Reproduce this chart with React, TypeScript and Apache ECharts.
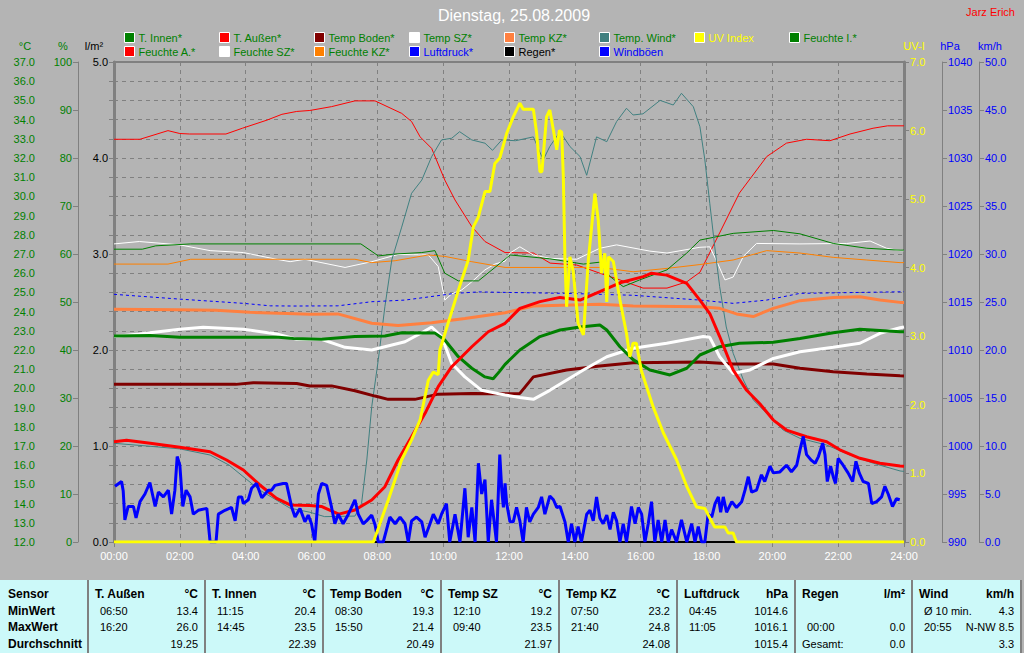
import React, { useEffect, useRef } from 'react';
import * as echarts from 'echarts';

const FONT = 'Arial, "Liberation Sans", sans-serif';

// ---- data: [hour, value] ----
const tInnen = [[0,22.73],[1.1,22.75],[2.0,22.66],[5.0,22.66],[5.45,22.6],[6.3,22.56],[7.32,22.7],[8.23,22.73],[8.74,22.9],[9.75,22.88],[10.05,22.52],[10.46,21.65],[10.87,21.05],[11.27,20.6],[11.52,20.5],[11.72,20.9],[11.88,21.25],[12.33,22.0],[12.94,22.7],[13.55,23.04],[14.16,23.2],[14.76,23.3],[14.97,23.04],[15.37,22.17],[15.77,21.5],[16.28,20.96],[16.89,20.7],[17.4,21.05],[17.8,21.74],[18.4,22.17],[19.0,22.35],[20.03,22.4],[20.84,22.6],[21.85,22.9],[22.66,23.08],[23.88,22.95],[24,22.95]];
const tAussen = [[0,17.22],[0.38,17.3],[1.1,17.14],[2.0,16.93],[2.92,16.7],[3.42,16.27],[3.93,15.75],[4.43,14.97],[4.94,14.27],[5.35,13.93],[5.95,13.9],[6.3,13.85],[6.83,13.45],[7.32,13.67],[7.83,14.19],[8.23,14.88],[8.63,16.27],[9.04,17.48],[9.45,18.7],[9.85,20.09],[10.26,21.13],[10.87,22.17],[11.37,22.95],[11.88,23.39],[12.33,24.17],[12.94,24.52],[13.55,24.74],[14.16,24.6],[14.76,25.04],[15.37,25.5],[16.08,25.82],[16.33,26.0],[16.79,25.9],[17.4,25.47],[17.8,24.6],[18.1,23.9],[18.4,22.7],[18.81,20.96],[19.22,19.9],[19.62,19.2],[20.03,18.35],[20.43,17.83],[21.04,17.48],[21.65,17.22],[22.05,16.8],[22.66,16.36],[23.27,16.1],[23.88,15.96],[24,15.95]];
const tempBoden = [[0,20.21],[3.7,20.21],[4.23,20.3],[5.55,20.26],[5.95,20.13],[6.61,20.13],[7.32,19.88],[7.93,19.6],[8.33,19.43],[9.14,19.43],[9.85,19.7],[10.87,19.74],[11.88,19.72],[12.33,19.74],[12.74,20.6],[13.75,20.96],[14.76,21.17],[15.77,21.34],[17.8,21.37],[18.81,21.27],[20.03,21.27],[20.84,21.05],[21.85,20.87],[22.87,20.75],[23.88,20.66],[24,20.65]];
const tempSZ = [[0,22.7],[0.77,22.83],[2.0,23.08],[2.71,23.18],[3.93,23.08],[4.94,22.83],[5.55,22.56],[6.3,22.56],[7.02,22.14],[7.83,22.0],[8.84,22.43],[9.35,22.9],[9.65,23.2],[9.95,22.7],[10.26,21.3],[10.66,20.6],[11.17,19.9],[11.88,19.66],[12.33,19.53],[12.74,19.43],[13.24,19.9],[14.26,20.96],[14.97,21.65],[15.77,22.09],[16.79,22.35],[17.9,22.7],[18.1,22.66],[18.4,21.65],[18.81,20.78],[19.32,20.96],[20.03,21.56],[20.84,21.91],[21.85,22.14],[22.66,22.35],[23.27,22.87],[23.88,23.16],[24,23.2]];
const tempKZ = [[0,24.12],[2.0,24.1],[3.1,24.07],[4.13,23.96],[5.25,23.9],[5.95,23.86],[6.8,23.88],[7.83,23.39],[8.63,23.27],[9.65,23.42],[10.66,23.64],[11.88,23.94],[12.74,24.29],[14.76,24.38],[15.77,24.29],[17.8,24.25],[18.4,24.17],[18.91,23.88],[19.42,23.74],[20.03,24.17],[20.84,24.57],[21.85,24.74],[22.66,24.77],[23.27,24.6],[23.88,24.48],[24,24.48]];
const tempWind = [[0,17.14],[1.0,17.0],[2.0,16.85],[2.92,16.53],[3.5,16.0],[4.43,14.7],[5.35,13.76],[5.95,13.55],[6.4,13.32],[7.32,13.35],[7.52,14.0],[7.68,16.27],[7.83,19.05],[8.03,21.5],[8.23,24.26],[8.44,26.7],[8.74,28.4],[9.04,30.16],[9.35,30.85],[9.65,32.07],[9.95,32.94],[10.26,33.03],[10.5,33.37],[10.87,32.94],[11.27,32.77],[11.5,32.4],[11.78,32.94],[12.2,32.9],[12.74,33.1],[13.04,31.9],[13.24,32.6],[13.55,33.37],[13.85,32.6],[14.16,32.07],[14.36,31.1],[14.66,33.1],[14.97,32.85],[15.27,33.9],[15.57,34.59],[15.77,34.24],[16.07,34.3],[16.59,35.0],[16.99,34.76],[17.24,35.37],[17.6,34.67],[17.8,33.63],[17.95,31.9],[18.1,29.64],[18.25,27.38],[18.4,25.3],[18.6,23.2],[18.81,21.83],[19.12,20.44],[19.42,19.4],[19.83,18.7],[20.33,17.83],[20.84,17.4],[21.65,17.05],[22.36,16.53],[23.07,16.1],[23.88,15.7],[24,15.68]];
const feuchteI = [[0,61.0],[0.86,61.0],[1.27,61.7],[2.33,62.1],[7.5,62.1],[8.03,59.6],[8.54,60.0],[9.35,60.3],[9.75,60.7],[10.05,56.0],[10.46,54.4],[11.07,54.4],[11.88,58.9],[12.03,59.8],[13.24,59.0],[14.26,57.9],[14.76,58.3],[15.07,55.3],[15.47,53.2],[15.97,54.6],[16.8,56.7],[17.4,60.2],[17.8,62.9],[18.81,64.3],[20.03,64.9],[20.84,64.2],[21.85,62.2],[22.87,61.2],[23.88,60.8],[24,60.8]];
const feuchteA = [[0,83.9],[0.79,83.9],[1.64,85.7],[2.0,85.1],[2.3,85.0],[3.4,85.0],[3.9,86.2],[4.65,87.9],[5.1,89.1],[5.55,89.7],[5.95,89.9],[6.61,90.7],[7.32,91.9],[7.93,91.9],[8.74,89.3],[9.04,87.6],[9.3,84.4],[9.65,82.0],[10.05,75.4],[10.36,71.25],[10.87,65.7],[11.27,62.6],[11.88,60.3],[12.74,60.2],[13.25,58.1],[14.06,57.7],[14.76,56.0],[15.37,54.6],[16.07,52.9],[16.8,52.9],[17.4,54.2],[17.8,56.2],[18.4,64.4],[19.0,72.7],[19.83,80.3],[20.43,83.1],[21.04,83.9],[21.75,83.6],[22.36,85.0],[23.06,86.2],[23.5,86.7],[24,86.7]];
const feuchteSZ = [[0,62.1],[0.77,62.6],[2.0,61.9],[2.92,60.7],[3.93,60.3],[4.94,58.9],[5.35,58.4],[5.8,58.9],[7.02,57.2],[7.83,58.4],[8.63,59.9],[9.55,59.8],[9.85,57.4],[10.05,50.4],[10.26,51.7],[10.56,52.5],[10.87,54.2],[11.27,56.7],[11.57,57.9],[11.88,58.5],[12.03,60.2],[12.33,61.5],[12.74,59.8],[13.24,59.1],[14.06,58.9],[14.76,61.2],[15.27,61.9],[16.28,60.6],[16.8,60.2],[17.8,61.4],[18.1,61.5],[18.35,57.9],[18.56,54.6],[18.81,55.2],[19.12,59.5],[19.52,62.2],[20.84,62.1],[22.26,62.2],[22.97,62.7],[23.47,61.2],[23.88,60.7],[24,60.7]];
const feuchteKZ = [[0,57.9],[1.64,57.9],[2.33,58.9],[7.32,58.9],[7.83,58.2],[8.54,58.6],[9.55,59.8],[10.05,59.5],[10.87,58.4],[11.88,57.2],[14.76,57.2],[15.77,56.3],[16.8,57.0],[17.8,57.8],[18.81,58.75],[19.83,60.7],[20.84,60.2],[21.85,59.3],[22.87,58.75],[23.88,58.2],[24,58.2]];
const luftdruck = [[0,1015.8],[2.0,1015.3],[3.93,1014.86],[4.75,1014.6],[5.45,1014.58],[6.8,1014.6],[7.83,1015.03],[8.84,1015.2],[10.36,1015.9],[11.08,1016.05],[11.88,1016.0],[13.75,1015.9],[15.77,1015.7],[17.8,1015.2],[18.81,1014.86],[19.83,1015.2],[20.84,1015.9],[24,1016.07]];
const regen = [[0,0],[24,0]];
const uvIndex = [[0,0],[7.88,0],[8.03,0.2],[8.33,0.61],[8.74,1.2],[9.04,1.49],[9.3,1.78],[9.55,2.36],[9.7,2.48],[9.85,2.44],[9.9,2.8],[10.15,3.19],[10.46,3.67],[10.76,4.11],[10.92,4.6],[11.07,4.74],[11.27,5.11],[11.42,5.11],[11.57,5.52],[11.72,5.6],[11.93,5.96],[12.13,6.2],[12.33,6.4],[12.43,6.31],[12.74,6.31],[12.84,5.96],[12.94,5.4],[13.0,5.4],[13.14,6.2],[13.24,6.3],[13.35,6.0],[13.45,5.72],[13.53,6.0],[13.6,5.98],[13.65,5.33],[13.7,4.11],[13.75,3.43],[13.85,4.16],[13.95,3.95],[14.1,3.19],[14.26,3.02],[14.41,4.11],[14.61,5.08],[14.71,4.7],[14.81,3.92],[14.91,4.21],[14.97,3.5],[15.02,4.16],[15.17,4.09],[15.37,3.53],[15.57,3.04],[15.67,2.7],[15.77,2.9],[15.87,2.9],[16.02,2.5],[16.38,1.97],[16.69,1.59],[17.09,1.2],[17.4,0.81],[17.7,0.51],[17.95,0.49],[18.1,0.35],[18.25,0.22],[18.56,0.22],[18.66,0.13],[18.81,0.13],[18.91,0],[24,0]];
const windboeen = [[0.03,5.8],[0.23,6.3],[0.28,5.3],[0.33,2.3],[0.43,3.7],[0.59,3.7],[0.67,2.5],[0.79,4.2],[0.94,5.0],[1.09,6.2],[1.25,3.7],[1.35,5.2],[1.5,4.7],[1.65,5.4],[1.75,2.9],[1.85,5.4],[1.92,8.9],[2.0,8.0],[2.09,3.7],[2.19,5.4],[2.31,4.7],[2.41,2.9],[2.56,3.3],[2.82,3.5],[2.92,0],[3.1,0],[3.17,2.9],[3.37,3.3],[3.57,3.6],[3.68,2.2],[3.78,4.7],[3.88,4.7],[3.93,4.0],[4.08,4.4],[4.18,5.6],[4.33,6.1],[4.49,4.6],[4.69,5.4],[4.79,5.4],[4.89,5.9],[5.14,6.1],[5.24,6.1],[5.4,3.6],[5.5,2.6],[5.65,3.5],[5.8,2.1],[5.9,2.8],[6.0,1.9],[6.1,0],[6.21,5.0],[6.31,6.1],[6.46,5.9],[6.61,3.6],[6.71,1.9],[6.81,2.9],[6.96,1.9],[7.12,2.9],[7.32,4.4],[7.42,2.9],[7.57,1.9],[7.67,2.2],[7.83,2.8],[7.93,1.8],[8.03,0],[8.18,0],[8.38,2.6],[8.54,1.9],[8.69,2.6],[8.84,1.9],[8.94,0],[9.04,2.2],[9.19,2.6],[9.35,2.1],[9.45,0.5],[9.6,1.9],[9.7,2.9],[9.85,1.9],[9.95,2.9],[10.1,4.0],[10.2,0],[10.36,2.9],[10.51,0],[10.66,5.6],[10.76,0.5],[10.87,3.6],[10.97,0],[11.07,8.2],[11.17,5.0],[11.27,6.5],[11.37,0],[11.47,4.4],[11.62,0],[11.72,9.1],[11.78,5.4],[11.83,3.6],[11.88,6.1],[11.93,4.0],[12.03,2.1],[12.13,2.1],[12.23,3.6],[12.33,2.2],[12.43,0],[12.53,3.6],[12.63,2.1],[12.74,2.9],[12.89,3.6],[12.99,4.7],[13.09,2.9],[13.24,4.8],[13.35,4.4],[13.45,3.6],[13.55,3.7],[13.7,2.1],[13.8,0],[13.9,1.9],[14.0,0],[14.1,1.6],[14.2,0],[14.36,2.9],[14.46,3.3],[14.56,2.2],[14.66,4.7],[14.76,2.5],[14.86,1.9],[14.97,2.8],[15.07,1.3],[15.17,3.1],[15.27,2.2],[15.37,0],[15.47,1.9],[15.57,0],[15.72,3.7],[15.83,1.9],[15.93,3.6],[16.03,2.9],[16.13,0],[16.23,1.9],[16.33,4.2],[16.43,0],[16.53,2.3],[16.64,0],[16.74,2.3],[16.84,0],[16.94,1.3],[17.09,0],[17.24,2.3],[17.4,0],[17.55,1.9],[17.65,0],[17.75,1.6],[17.85,0],[17.95,0],[18.05,2.9],[18.16,2.6],[18.26,4.0],[18.36,4.7],[18.43,3.1],[18.51,4.7],[18.61,3.1],[18.77,4.2],[18.91,3.6],[19.07,4.2],[19.17,5.4],[19.27,6.8],[19.37,5.2],[19.52,5.4],[19.67,7.0],[19.77,6.3],[19.93,7.9],[20.03,7.2],[20.23,7.3],[20.43,8.0],[20.58,7.3],[20.74,8.0],[20.84,9.6],[20.94,11.0],[21.04,9.1],[21.19,8.5],[21.3,8.2],[21.4,8.9],[21.53,10.3],[21.6,9.1],[21.67,6.3],[21.77,7.9],[21.85,6.8],[21.92,6.1],[22.0,8.7],[22.15,8.0],[22.3,7.2],[22.44,6.3],[22.54,8.4],[22.64,7.2],[22.76,6.3],[22.92,6.1],[23.02,4.0],[23.17,4.2],[23.32,4.7],[23.42,5.8],[23.52,5.0],[23.65,3.7],[23.77,4.5],[23.87,4.4]];

// ---- legend ----
const legendRow1 = ['T. Innen*', 'T. Außen*', 'Temp Boden*', 'Temp SZ*', 'Temp KZ*', 'Temp. Wind*', 'UV Index', 'Feuchte I.*'];
const legendRow2 = ['Feuchte A.*', 'Feuchte SZ*', 'Feuchte KZ*', 'Luftdruck*', 'Regen*', 'Windböen'];
const legendTextColor: Record<string, string> = { 'UV Index': '#FFFF00', 'Luftdruck*': '#0000FF', 'Regen*': '#000000', 'Windböen': '#0000FF' };

// ---- table ----
const rowLabels = ['Sensor', 'MinWert', 'MaxWert', 'Durchschnitt'];
const sensorNames = ['T. Außen', 'T. Innen', 'Temp Boden', 'Temp SZ', 'Temp KZ', 'Luftdruck', 'Regen', 'Wind'];
const sensorUnits = ['°C', '°C', '°C', '°C', '°C', 'hPa', 'l/m²', 'km/h'];
const minTimes = ['06:50', '11:15', '08:30', '12:10', '07:50', '04:45', '', 'Ø 10 min.'];
const minValues = ['13.4', '20.4', '19.3', '19.2', '23.2', '1014.6', '', '4.3'];
const maxTimes = ['16:20', '14:45', '15:50', '09:40', '21:40', '11:05', '00:00', '20:55'];
const maxValues = ['26.0', '23.5', '21.4', '23.5', '24.8', '1016.1', '0.0', 'N-NW 8.5'];
const avgLabels = ['', '', '', '', '', '', 'Gesamt:', ''];
const avgValues = ['19.25', '22.39', '20.49', '21.97', '24.08', '1015.4', '0.0', '3.3'];

const GREY = '#808080';

function line(name: string, data: number[][], color: string, width: number, yAxisIndex: number, dashed = false) {
  return {
    name, type: 'line', data, yAxisIndex, xAxisIndex: 0,
    symbol: 'none', showSymbol: false, smooth: false,
    itemStyle: { color },
    lineStyle: { color, width, type: dashed ? [3, 3] : 'solid' },
    emphasis: { disabled: true },
  };
}

function yAx(min: number, max: number, interval: number, position: string, offset: number, color: string, digits: number, extra: any = {}) {
  return {
    type: 'value', min, max, interval, position, offset,
    axisLine: { show: true, lineStyle: { color: GREY, width: 1 } },
    axisTick: { show: true, length: 5, lineStyle: { color: GREY } },
    axisLabel: { color, fontSize: 11, fontFamily: FONT, margin: 6, formatter: (v: number) => v.toFixed(digits) },
    splitLine: { show: false },
    ...extra,
  };
}

function buildOption() {
  const legends: any[] = [];
  [legendRow1, legendRow2].forEach((row, r) => {
    row.forEach((name, c) => {
      legends.push({
        left: 124 + c * 95, top: 32 + r * 14, padding: 0,
        data: [name], icon: 'rect', itemWidth: 10, itemHeight: 10, itemGap: 0,
        selectedMode: false,
        itemStyle: { borderColor: '#FFFFFF', borderWidth: 1 },
        textStyle: { color: legendTextColor[name] || '#008000', fontSize: 11, fontFamily: FONT, padding: [0, 0, 0, -1] },
      });
    });
  });

  const colEdges = [88, 205, 323, 441, 559, 677, 795, 912, 1021];
  const rowY = [594, 610.5, 627, 643.5];
  const g: any[] = [];
  const txt = (text: string, x: number, y: number, fill: string, font: string, align = 'left') =>
    ({ type: 'text', silent: true, style: { text, x, y, fill, font, textAlign: align, textVerticalAlign: 'middle' } });
  const BOLD = `bold 12px ${FONT}`;
  const NORM = `11px ${FONT}`;

  g.push({ type: 'rect', silent: true, shape: { x: 0, y: 580, width: 1022, height: 73 }, style: { fill: '#CCF9F9' } });
  colEdges.forEach((e) => g.push({ type: 'line', silent: true, shape: { x1: e, y1: 580, x2: e, y2: 653 }, style: { stroke: GREY, lineWidth: 2 } }));
  rowLabels.forEach((l, i) => g.push(txt(l, 8, rowY[i], '#000', BOLD)));
  sensorNames.forEach((n, i) => {
    const L = colEdges[i];
    const R = colEdges[i + 1];
    g.push(txt(n, L + 7, rowY[0], '#000', BOLD));
    g.push(txt(sensorUnits[i], R - 7, rowY[0], '#000', BOLD, 'right'));
    g.push(txt(minTimes[i], L + 12, rowY[1], '#000', NORM));
    g.push(txt(minValues[i], R - 7, rowY[1], '#000', NORM, 'right'));
    g.push(txt(maxTimes[i], L + 12, rowY[2], '#000', NORM));
    g.push(txt(maxValues[i], R - 7, rowY[2], '#000', NORM, 'right'));
    g.push(txt(avgLabels[i], L + 7, rowY[3], '#000', NORM));
    g.push(txt(avgValues[i], R - 7, rowY[3], '#000', NORM, 'right'));
  });

  // titles and axis unit labels
  g.push(txt('Dienstag, 25.08.2009', 514, 15, '#FFFFFF', `16px ${FONT}`, 'center'));
  g.push(txt('Jarz Erich', 1015, 12, '#FF0000', `11px ${FONT}`, 'right'));
  g.push(txt('°C', 25, 46, '#008000', `11px ${FONT}`, 'center'));
  g.push(txt('%', 63, 46, '#008000', `11px ${FONT}`, 'center'));
  g.push(txt('l/m²', 94, 46, '#000000', `11px ${FONT}`, 'center'));
  g.push(txt('UV-I', 914, 46, '#FFFF00', `11px ${FONT}`, 'center'));
  g.push(txt('hPa', 950, 46, '#0000FF', `11px ${FONT}`, 'center'));
  g.push(txt('km/h', 990, 46, '#0000FF', `11px ${FONT}`, 'center'));

  return {
    animation: false,
    backgroundColor: '#B4B4B4',
    grid: { left: 114, right: 120, top: 62, bottom: 111, show: true, borderColor: GREY, borderWidth: 2, backgroundColor: 'transparent' },
    legend: legends,
    xAxis: {
      type: 'value', min: 0, max: 24, interval: 2,
      axisLine: { show: true, lineStyle: { color: GREY } },
      axisTick: { show: true, length: 5, lineStyle: { color: GREY } },
      axisLabel: { color: '#FFFFFF', fontSize: 11, fontFamily: FONT, margin: 8, formatter: (v: number) => `${String(v).padStart(2, '0')}:00` },
      splitLine: { show: true, lineStyle: { color: GREY, type: [4, 4] } },
    },
    yAxis: [
      yAx(12, 37, 1, 'left', 73, '#008000', 1, { splitLine: { show: true, lineStyle: { color: GREY, type: [4, 4] } } }),
      yAx(0, 100, 10, 'left', 36, '#008000', 0),
      yAx(0, 5, 1, 'left', 0, '#000000', 1, { axisLine: { show: true, lineStyle: { color: GREY, width: 3 } } }),
      yAx(0, 7, 1, 'right', 0, '#FFFF00', 1, { axisLine: { show: true, lineStyle: { color: GREY, width: 3 } } }),
      yAx(990, 1040, 5, 'right', 38, '#0000FF', 0),
      yAx(0, 50, 5, 'right', 75, '#0000FF', 1),
    ],
    series: [
      line('Feuchte A.*', feuchteA, '#FF0000', 1, 1),
      line('Feuchte SZ*', feuchteSZ, '#FFFFFF', 1, 1),
      line('Feuchte KZ*', feuchteKZ, '#FF8000', 1, 1),
      line('Feuchte I.*', feuchteI, '#008000', 1, 1),
      line('Temp. Wind*', tempWind, '#408080', 1, 0),
      line('Luftdruck*', luftdruck, '#0000FF', 1, 4, true),
      line('Temp KZ*', tempKZ, '#FF8040', 3, 0),
      line('Temp Boden*', tempBoden, '#800000', 3, 0),
      line('Temp SZ*', tempSZ, '#FFFFFF', 3, 0),
      line('T. Innen*', tInnen, '#008000', 3, 0),
      line('T. Außen*', tAussen, '#FF0000', 3, 0),
      line('Regen*', regen, '#000000', 2, 2),
      line('Windböen', windboeen, '#0000FF', 3, 5),
      line('UV Index', uvIndex, '#FFFF00', 3, 3),
    ],
    graphic: { elements: g },
  };
}

export default function App() {
  const ref = useRef<HTMLDivElement>(null);
  useEffect(() => {
    if (!ref.current) return;
    const chart = echarts.init(ref.current, null, { renderer: 'svg' });
    chart.setOption(buildOption() as any);
    return () => chart.dispose();
  }, []);
  return <div ref={ref} style={{ position: 'absolute', left: 0, top: 0, width: 1024, height: 653 }} />;
}
